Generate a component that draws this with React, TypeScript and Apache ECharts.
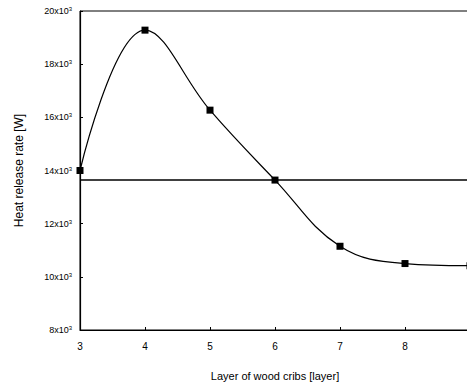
import React, { useEffect, useRef } from "react";
import * as echarts from "echarts";

const layers = [3, 4, 5, 6, 7, 8, 9];
const heatRelease = [14000, 19280, 16270, 13640, 11150, 10500, 10420];
const referenceLine = 13640;
const yTicks = [8000, 10000, 12000, 14000, 16000, 18000, 20000];

export default function App() {
  const ref = useRef<HTMLDivElement>(null);
  useEffect(() => {
    document.body.style.margin = "0";
    const chart = echarts.init(ref.current!, null, { renderer: "svg" });
    const font = "Liberation Sans";
    chart.setOption({
      animation: false,
      backgroundColor: "#fff",
      grid: {
        left: 80,
        top: 11,
        width: 390,
        height: 319,
        show: true,
        borderColor: "#000",
        borderWidth: 1,
        containLabel: false,
        outerBoundsMode: "none",
      },
      xAxis: {
        type: "value",
        min: 3,
        max: 9,
        interval: 1,
        name: "Layer of wood cribs [layer]",
        nameLocation: "middle",
        nameGap: 40,
        nameTextStyle: { fontFamily: font, fontSize: 11, color: "#000" },
        axisLine: { lineStyle: { color: "#000", width: 1.2 } },
        axisTick: { inside: true, length: 3, lineStyle: { color: "#000" } },
        axisLabel: { fontFamily: font, fontSize: 10, color: "#000", margin: 11 },
        splitLine: { show: false },
      },
      yAxis: {
        type: "value",
        min: yTicks[0],
        max: yTicks[yTicks.length - 1],
        interval: 2000,
        name: "Heat release rate [W]",
        nameLocation: "middle",
        nameGap: 55,
        nameTextStyle: { fontFamily: font, fontSize: 12, color: "#000" },
        axisLine: { show: true, lineStyle: { color: "#000", width: 1.2 } },
        axisTick: { show: true, inside: true, length: 3, lineStyle: { color: "#000" } },
        axisLabel: {
          margin: 8,
          formatter: (v: number) => `{b|${v / 1000}x10}{s|3}`,
          rich: {
            b: { fontFamily: font, fontSize: 9, color: "#000", letterSpacing: -0.5 },
            s: { fontFamily: font, fontSize: 6, color: "#000", verticalAlign: "top", padding: [0, 0, 4, 0] },
          },
        },
        splitLine: { show: false },
      },
      series: [
        {
          type: "line",
          data: layers.map((x, i) => [x, heatRelease[i]]),
          smooth: 0.4,
          symbol: "rect",
          symbolSize: 7,
          showSymbol: true,
          itemStyle: { color: "#000" },
          lineStyle: { color: "#000", width: 1.2 },
          markLine: {
            silent: true,
            symbol: "none",
            label: { show: false },
            lineStyle: { color: "#000", width: 1.5, type: "solid" },
            data: [{ yAxis: referenceLine }],
          },
        },
      ],
    });
    return () => chart.dispose();
  }, []);
  return <div ref={ref} style={{ width: 467, height: 385 }} />;
}
